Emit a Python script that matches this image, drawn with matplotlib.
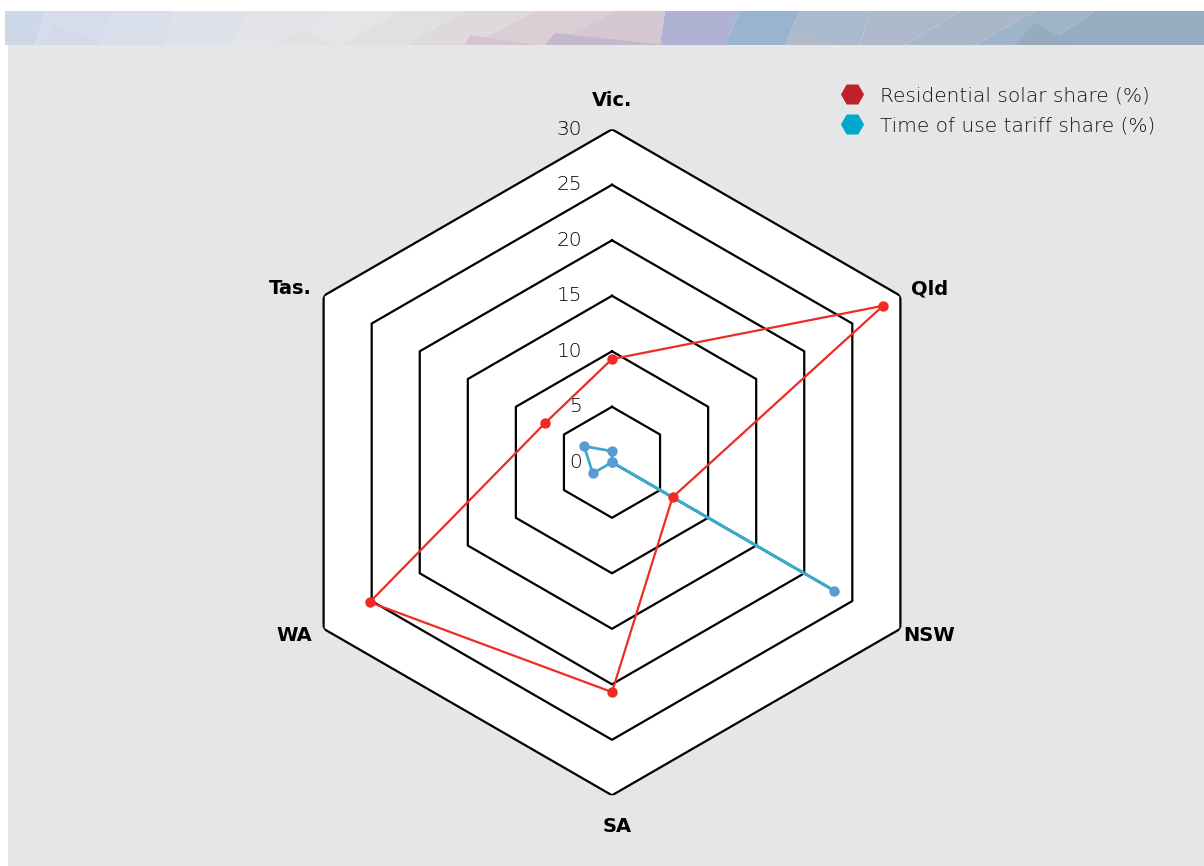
import numpy as np
import matplotlib.pyplot as plt
from matplotlib.lines import Line2D
from matplotlib.patches import Polygon

states = ['Vic.', 'Qld', 'NSW', 'SA', 'WA', 'Tas.']
solar = [9.3, 28.2, 6.3, 20.7, 25.2, 7.0]
tou = [1.0, 0.0, 23.1, 0.0, 2.0, 2.9]
rings = [5, 10, 15, 20, 25, 30]
tick_labels = ['0', '5', '10', '15', '20', '25', '30']

W, H = 1204, 866
fig = plt.figure(figsize=(W / 100, H / 100), dpi=100)
fig.patch.set_facecolor('white')

# grey panel
panel = fig.add_axes([8 / W, 0, 1 - 8 / W, 1 - 45 / H], zorder=-10)
panel.set_facecolor('#E5E6E8')
panel.set_xticks([])
panel.set_yticks([])
for sp in panel.spines.values():
    sp.set_visible(False)

# decorative mosaic band at top
band = fig.add_axes([5 / W, 1 - 45 / H, 1 - 5 / W, 34 / H], zorder=-10)
band.set_xlim(0, 1199)
band.set_ylim(0, 34)
band.axis('off')
top_cuts = [0, 40, 110, 170, 245, 330, 395, 460, 530, 610, 660, 735, 795, 865, 955, 1030, 1090, 1199]
bot_cuts = [0, 30, 95, 160, 225, 295, 335, 400, 465, 540, 655, 720, 780, 855, 900, 970, 1040, 1199]
band_cols = ['#CCD7E8', '#D6DCEB', '#D8DEEA', '#DEE1EA', '#E2E4E9', '#E5E5E8', '#E0E0E0',
             '#DED9DC', '#DBCED4', '#D6C8D0', '#B0B2D3', '#98B4D0', '#A9BACE', '#ADB9CA',
             '#AAB7C8', '#9FB3C9', '#96ACC1', '#92A8BC']
for i in range(len(top_cuts) - 1):
    band.add_patch(Polygon([(bot_cuts[i], 0), (top_cuts[i], 34), (top_cuts[i + 1], 34),
                            (bot_cuts[i + 1], 0)], closed=True, facecolor=band_cols[i],
                           edgecolor='none'))
tris = [((35, 0), (50, 20), (95, 0), '#D3D9E8'), ((270, 0), (295, 15), (330, 0), '#E1E1E3'),
        ((460, 0), (465, 10), (530, 0), '#D3C4CE'), ((540, 0), (550, 12), (660, 0), '#C4B8CC'),
        ((780, 0), (790, 16), (830, 0), '#B2BAC9'), ((1010, 0), (1030, 22), (1070, 0), '#97ABBF')]
for a, b, c, col in tris:
    band.add_patch(Polygon([a, b, c], closed=True, facecolor=col, edgecolor='none'))

# radar
R = 333
cx, cy = 612, H - 462.3
ax = fig.add_axes([(cx - R) / W, (cy - R) / H, 2 * R / W, 2 * R / H], polar=True)
ax.set_theta_zero_location('N')
ax.set_theta_direction(-1)
ax.set_ylim(0, 30)
ax.patch.set_alpha(0)
ax.grid(False)
ax.spines['polar'].set_visible(False)
ax.set_xticks([])
ax.set_yticks([])

theta = np.deg2rad(np.arange(len(states)) * 60.0)
theta_c = np.append(theta, theta[0])

ax.fill(theta_c, [30] * 7, color='white', zorder=1)
for r in rings:
    ax.plot(theta_c, [r] * 7, color='black', lw=1.6, zorder=2)

ax.plot(theta_c, tou + tou[:1], color='#3FA9C9', lw=2, zorder=3)
ax.plot(theta, tou, 'o', color='#5B9BD5', ms=6.5, zorder=4)
ax.plot(theta_c, solar + solar[:1], color='#EE2B24', lw=1.6, zorder=5)
ax.plot(theta, solar, 'o', color='#EE2B24', ms=6.5, zorder=6)

for i, t in enumerate(tick_labels):
    ax.annotate(t, (0, i * 5), xytext=(-30, 0), textcoords='offset pixels',
                ha='right', va='center', fontsize=14.5, family='DejaVu Sans', weight='light',
                color='black', annotation_clip=False, zorder=7)

offs = [(0, 29, 'center'), (11, 7, 'left'), (3, -7, 'left'),
        (5, -31, 'center'), (-11, -7, 'right'), (-12, 7, 'right')]
for s, t, (dx, dy, ha) in zip(states, theta, offs):
    ax.annotate(s, (t, 30), xytext=(dx, dy), textcoords='offset pixels', ha=ha, va='center',
                fontsize=14, family='DejaVu Sans', weight='bold', color='black',
                annotation_clip=False)

handles = [Line2D([], [], marker='H', ls='none', color='#C0202B', ms=15.5),
           Line2D([], [], marker='H', ls='none', color='#00A8CC', ms=15.5)]
fig.legend(handles, ['Residential solar share (%)', 'Time of use tariff share (%)'],
           loc='upper left', bbox_to_anchor=(840 / W, 1 - 86 / H), frameon=False,
           borderaxespad=0, borderpad=0, handletextpad=0.8, labelspacing=0.55,
           handlelength=1.2, prop={'family': 'DejaVu Sans', 'weight': 'light', 'size': 14.5},
           labelcolor='#111111')

fig.savefig('out.png', dpi=100, facecolor=fig.get_facecolor())
